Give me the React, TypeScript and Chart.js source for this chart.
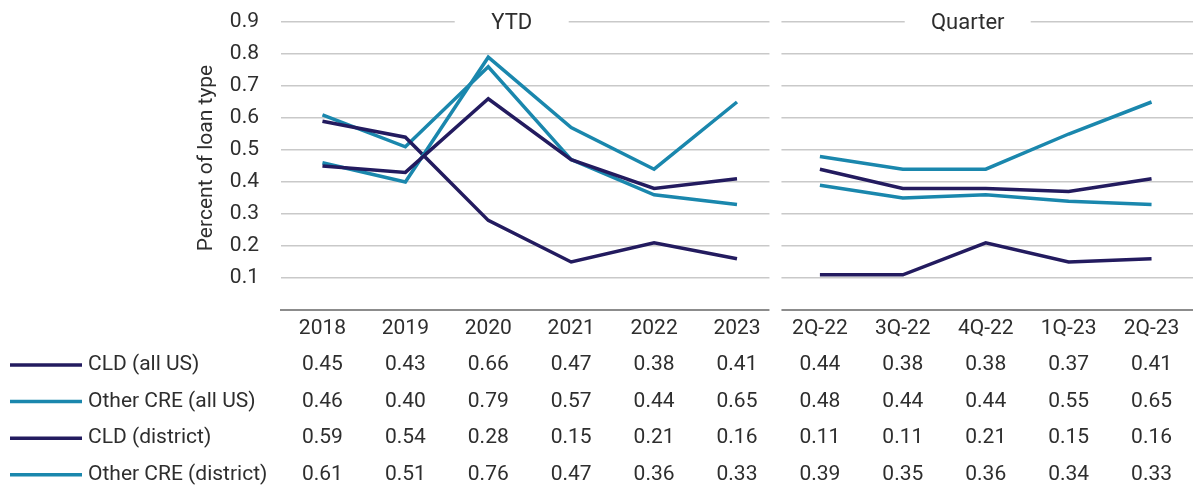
import React, { useEffect, useRef } from "react";
import { Chart, registerables } from "chart.js";

Chart.register(...registerables);

const ytdLabels = ["2018", "2019", "2020", "2021", "2022", "2023"];
const quarterLabels = ["2Q-22", "3Q-22", "4Q-22", "1Q-23", "2Q-23"];

const seriesNames = ["CLD (all US)", "Other CRE (all US)", "CLD (district)", "Other CRE (district)"];

const cldAllUsYtd = [0.45, 0.43, 0.66, 0.47, 0.38, 0.41];
const cldAllUsQtr = [0.44, 0.38, 0.38, 0.37, 0.41];
const otherAllUsYtd = [0.46, 0.40, 0.79, 0.57, 0.44, 0.65];
const otherAllUsQtr = [0.48, 0.44, 0.44, 0.55, 0.65];
const cldDistrictYtd = [0.59, 0.54, 0.28, 0.15, 0.21, 0.16];
const cldDistrictQtr = [0.11, 0.11, 0.21, 0.15, 0.16];
const otherDistrictYtd = [0.61, 0.51, 0.76, 0.47, 0.36, 0.33];
const otherDistrictQtr = [0.39, 0.35, 0.36, 0.34, 0.33];

const yTicks = [0.1, 0.2, 0.3, 0.4, 0.5, 0.6, 0.7, 0.8, 0.9];
const panelTitles = ["YTD", "Quarter"];
const yTitle = "Percent of loan type";

const NAVY = "#231b5f";
const TEAL = "#1a87ad";
const TEXT = "#2e2e2e";
const FONT = "Roboto, 'Noto Sans', sans-serif";

export default function App() {
  const ref = useRef<HTMLCanvasElement | null>(null);

  useEffect(() => {
    const canvas = ref.current;
    if (!canvas) return;
    const labels = [...ytdLabels, ...quarterLabels];
    const seriesData = [
      [...cldAllUsYtd, ...cldAllUsQtr],
      [...otherAllUsYtd, ...otherAllUsQtr],
      [...cldDistrictYtd, ...cldDistrictQtr],
      [...otherDistrictYtd, ...otherDistrictQtr],
    ];
    const colors = [NAVY, TEAL, NAVY, TEAL];
    const splitIndex = ytdLabels.length - 1;

    const decorPlugin = {
      id: "decor",
      beforeDatasetsDraw(chart: any) {
        const { ctx, chartArea, scales } = chart;
        const x = scales.x;
        const boundary = (x.getPixelForValue(splitIndex) + x.getPixelForValue(splitIndex + 1)) / 2;
        ctx.save();
        ctx.fillStyle = "#ffffff";
        ctx.fillRect(boundary - 9, chartArea.top - 4, 12, chartArea.bottom - chartArea.top + 8);
        const panels = [
          { l: chartArea.left, r: boundary, half: 57 },
          { l: boundary, r: chartArea.right, half: 63 },
        ];
        ctx.font = `22px ${FONT}`;
        ctx.textAlign = "center";
        ctx.textBaseline = "middle";
        panels.forEach((p, i) => {
          const c = (p.l + p.r) / 2 - 18;
          ctx.fillStyle = "#ffffff";
          ctx.fillRect(c - p.half, chartArea.top - 4, p.half * 2, 8);
          ctx.fillStyle = TEXT;
          ctx.fillText(panelTitles[i], c, chartArea.top + 1);
        });
        ctx.save();
        ctx.translate(207, (chartArea.top + chartArea.bottom) / 2 - 8);
        ctx.rotate(-Math.PI / 2);
        ctx.font = `21px ${FONT}`;
        ctx.fillStyle = TEXT;
        ctx.fillText(yTitle, 0, 0);
        ctx.restore();
        ctx.restore();
      },
      afterDraw(chart: any) {
        const { ctx, chartArea, scales } = chart;
        const x = scales.x;
        ctx.save();
        ctx.font = `21px ${FONT}`;
        ctx.textBaseline = "middle";
        seriesNames.forEach((name, i) => {
          const y = chartArea.bottom + 55 + i * 36.6;
          ctx.strokeStyle = colors[i];
          ctx.lineWidth = 3.5;
          ctx.beginPath();
          ctx.moveTo(10, y);
          ctx.lineTo(82, y);
          ctx.stroke();
          ctx.fillStyle = TEXT;
          ctx.textAlign = "left";
          ctx.fillText(name, 88, y);
          ctx.textAlign = "center";
          seriesData[i].forEach((v, j) => {
            ctx.fillText(v.toFixed(2), x.getPixelForValue(j), y);
          });
        });
        ctx.restore();
      },
    };

    const chart = new Chart(canvas, {
      type: "line",
      data: {
        labels,
        datasets: seriesData.map((d, i) => ({
          label: seriesNames[i],
          data: d,
          borderColor: colors[i],
          backgroundColor: colors[i],
          borderWidth: 3.5,
          pointRadius: 0,
          pointHoverRadius: 0,
          tension: 0,
          fill: false,
          segment: {
            borderColor: (c: any) => (c.p0DataIndex === splitIndex ? "rgba(0,0,0,0)" : undefined),
          },
        })),
      },
      options: {
        animation: false,
        responsive: false,
        maintainAspectRatio: false,
        layout: { padding: { top: 22, left: 0, right: 0, bottom: 0 } },
        plugins: {
          legend: { display: false },
          tooltip: { enabled: false },
          title: { display: false },
        },
        scales: {
          x: {
            offset: true,
            grid: { display: false, drawTicks: false, offset: true },
            border: { display: true, color: "#8c8c8c", width: 2 },
            ticks: { color: TEXT, font: { family: FONT, size: 21 }, padding: 6, maxRotation: 0, autoSkip: false },
            afterFit: (s: any) => {
              s.height = 182;
              s.paddingLeft = 0;
              s.paddingRight = 0;
            },
          },
          y: {
            min: 0,
            max: 0.9,
            afterBuildTicks: (s: any) => {
              s.ticks = [0, ...yTicks].map((v) => ({ value: v }));
            },
            grid: {
              drawTicks: false,
              color: (c: any) => (c.tick && c.tick.value === 0 ? "rgba(0,0,0,0)" : "#c9c9c9"),
              lineWidth: 1.6,
            },
            border: { display: false },
            ticks: {
              color: TEXT,
              font: { family: FONT, size: 21 },
              padding: 22,
              callback: (v: any) => (Number(v) === 0 ? "" : Number(v).toFixed(1)),
            },
            afterFit: (s: any) => {
              s.width = 281;
              s.paddingTop = 0;
              s.paddingBottom = 0;
            },
          },
        },
      },
      plugins: [decorPlugin],
    });
    return () => chart.destroy();
  }, []);

  return (
    <div style={{ position: "fixed", left: 0, top: 0, width: 1193, height: 492, background: "#fff" }}>
      <canvas ref={ref} width={1193} height={492} style={{ width: 1193, height: 492, display: "block" }} />
    </div>
  );
}
